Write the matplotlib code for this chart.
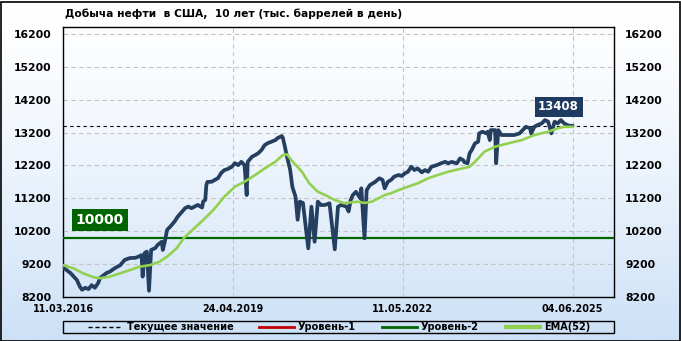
import numpy as np
import matplotlib
matplotlib.use("Agg")
import matplotlib.pyplot as plt
from matplotlib.lines import Line2D
from matplotlib.patches import Rectangle

# weekly index (0 = 11.03.2016, 480 = 04.06.2025) and value, tys. barrels/day
weeks = [0, 7, 13, 16, 18, 21, 24, 27, 30, 33, 35, 41, 44, 49, 54, 58, 63, 68, 71, 74,
         75, 77, 79, 81, 83, 87, 89, 93, 94, 96, 98, 101, 105, 108, 112, 115, 118, 121,
         124, 127, 131, 132, 134, 135, 136, 140, 143, 146, 149, 152, 155, 159, 162, 165,
         168, 171, 173, 174, 178, 181, 184, 187, 190, 193, 196, 200, 202, 206, 207, 209,
         211, 214, 216, 219, 221, 223, 226, 231, 234, 237, 240, 243, 247, 251, 256, 259,
         262, 267, 269, 271, 273, 276, 280, 281, 284, 286, 289, 294, 298, 301, 303, 306,
         309, 312, 316, 319, 322, 325, 328, 331, 334, 338, 341, 344, 347, 352, 356, 360,
         363, 366, 371, 374, 377, 378, 381, 383, 385, 388, 391, 392, 395, 399, 400, 402,
         403, 407, 408, 410, 413, 419, 425, 430, 433, 436, 440, 441, 444, 447, 451, 454,
         457, 460, 463, 466, 469, 472, 475, 478, 480]
production = [9100, 8930, 8720, 8510, 8420, 8480, 8440, 8560, 8480, 8620, 8780, 8930, 8970,
              9080, 9170, 9325, 9385, 9390, 9425, 9475, 8820, 9540, 9580, 8390, 9630, 9690,
              9780, 9880, 9630, 9900, 10240, 10340, 10490, 10640, 10790, 10900, 10950, 10900,
              10950, 11000, 10920, 11100, 11150, 11600, 11700, 11705, 11760, 11815, 11970,
              12060, 12090, 12160, 12270, 12210, 12310, 12210, 11300, 12310, 12465, 12515,
              12575, 12670, 12820, 12880, 12920, 12970, 13030, 13095, 13050, 12770, 12465,
              12060, 11555, 11250, 10550, 11100, 11060, 9680, 10945, 9880, 11100, 10995,
              11000, 11050, 9650, 10945, 11000, 10950, 10800, 11150, 11300, 11400, 11200,
              11505, 9985, 11450, 11600, 11700, 11810, 11760, 11505, 11705, 11760, 11860,
              11910, 11880, 11960, 12010, 12160, 12060, 12110, 11990, 12060, 12010, 12160,
              12210, 12265, 12310, 12265, 12310, 12265, 12415, 12360, 12300, 12265, 12570,
              12670, 12870, 12920, 13175, 13225, 13175, 13225, 12970, 13275, 13275, 12265,
              13275, 13125, 13125, 13125, 13175, 13275, 13375, 13330, 13175, 13375, 13430,
              13480, 13580, 13530, 13175, 13530, 13480, 13580, 13480, 13430, 13400, 13408]

ema_weeks = [0, 10, 19, 29, 35, 44, 54, 63, 72, 82, 91, 98, 107, 114, 124, 134, 143, 152,
             162, 171, 181, 190, 200, 207, 211, 215, 225, 232, 240, 247, 256, 265, 272,
             278, 284, 291, 297, 303, 309, 316, 325, 334, 344, 353, 363, 372, 383, 388,
             397, 407, 419, 432, 444, 457, 466, 472, 480]
ema_values = [9170, 9070, 8920, 8800, 8770, 8820, 8920, 9020, 9120, 9170, 9275, 9425, 9680,
              10000, 10300, 10600, 10895, 11250, 11555, 11705, 11910, 12110, 12310, 12515,
              12540, 12365, 12010, 11655, 11400, 11300, 11150, 11050, 11080, 11100, 11060,
              11100, 11200, 11300, 11355, 11450, 11555, 11655, 11810, 11910, 12010, 12080,
              12160, 12310, 12620, 12770, 12870, 12970, 13125, 13225, 13330, 13375, 13375]

level2 = 10000
current = production[-1]

tick_pos = [0, 160, 320, 480]
tick_labels = ["11.03.2016", "24.04.2019", "11.05.2022", "04.06.2025"]
y_ticks = [8200, 9200, 10200, 11200, 12200, 13200, 14200, 15200, 16200]

navy = "#243f60"
green = "#006400"
light_green = "#92d050"
red = "#c00000"

W, H = 681, 341
fig = plt.figure(figsize=(W / 100, H / 100), dpi=100)

# background gradient white -> light blue
bg = fig.add_axes([0, 0, 1, 1], zorder=-10)
grad = np.linspace(0, 1, 256).reshape(-1, 1) ** 1.4
top = np.array([1.0, 1.0, 1.0])
bottom = np.array([0.80, 0.88, 0.97])
img = top + (bottom - top) * grad[:, :, None]
bg.imshow(img, aspect="auto", extent=[0, 1, 0, 1], origin="upper")
bg.set_axis_off()
fig.patches.append(Rectangle((0.5 / W, 0.5 / H), 1 - 2 / W, 1 - 2 / H, transform=fig.transFigure,
                             fill=False, edgecolor="black", lw=1.2))

ax = fig.add_axes([63 / W, (H - 297) / H, 551 / W, 270 / H])
ax.set_facecolor("none")

ax.plot(weeks, production, color=navy, lw=2.7, solid_joinstyle="round",
        solid_capstyle="round", zorder=4)
ax.plot(ema_weeks, ema_values, color=light_green, lw=1.9, zorder=5)
ax.axhline(level2, color=green, lw=1.6, zorder=3)
ax.axhline(current, color="black", lw=0.8, ls=(0, (3, 3)), zorder=3)

ax.set_xlim(0, 519)
ax.set_ylim(8200, 16410)
ax.set_xticks(tick_pos)
ax.set_xticklabels(tick_labels)
ax.set_yticks(y_ticks)
ax.grid(True, color="#c4c4c4", ls=(0, (4, 3)), lw=0.8)
ax.set_axisbelow(True)
ax.tick_params(axis="y", length=0, pad=8, labelsize=7.8, labelright=True)
ax.tick_params(axis="x", length=0, pad=5, labelsize=6.9)
for lab in ax.get_xticklabels() + ax.get_yticklabels():
    lab.set_fontweight("bold")
for t in ax.yaxis.get_major_ticks():
    t.label2.set_fontweight("bold")
    t.label2.set_fontsize(7.8)
for sp in ax.spines.values():
    sp.set_linewidth(1.0)

ax.annotate(f"{current}", xy=(weeks[-1], current), xytext=(-14, 19), textcoords="offset pixels",
            ha="center", va="center", color="white", fontsize=8.5, fontweight="bold",
            bbox=dict(boxstyle="square,pad=0.3", fc="#1f3a5f", ec="none"), zorder=6)
ax.annotate(f"{level2}", xy=(0, level2), xytext=(37, 18), textcoords="offset pixels",
            ha="center", va="center", color="white", fontsize=10, fontweight="bold",
            bbox=dict(boxstyle="square,pad=0.3", fc=green, ec="none"), zorder=6)

fig.text(65 / W, (H - 14) / H, "Добыча нефти  в США,  10 лет (тыс. баррелей в день)",
         fontsize=7.7, fontweight="bold", ha="left", va="center")

# legend strip
ly0, ly1 = (H - 333) / H, (H - 321) / H
fig.patches.append(Rectangle((63 / W, ly0), 551 / W, ly1 - ly0, transform=fig.transFigure,
                             fill=False, edgecolor="black", lw=1.0))
ly = (ly0 + ly1) / 2
entries = [(88, 120, "black", 1.0, (0, (3, 2)), 127, "Текущее значение"),
           (259, 294, red, 2.0, "-", 298, "Уровень-1"),
           (382, 417, green, 2.0, "-", 421, "Уровень-2"),
           (506, 540, light_green, 3.0, "-", 544, "EMA(52)")]
for x0, x1, c, lw, ls, tx, label in entries:
    fig.add_artist(Line2D([x0 / W, x1 / W], [ly, ly], transform=fig.transFigure,
                          color=c, lw=lw, ls=ls))
    fig.text(tx / W, ly, label, fontsize=7, fontweight="bold", ha="left", va="center")

fig.savefig("out.png", dpi=100)
